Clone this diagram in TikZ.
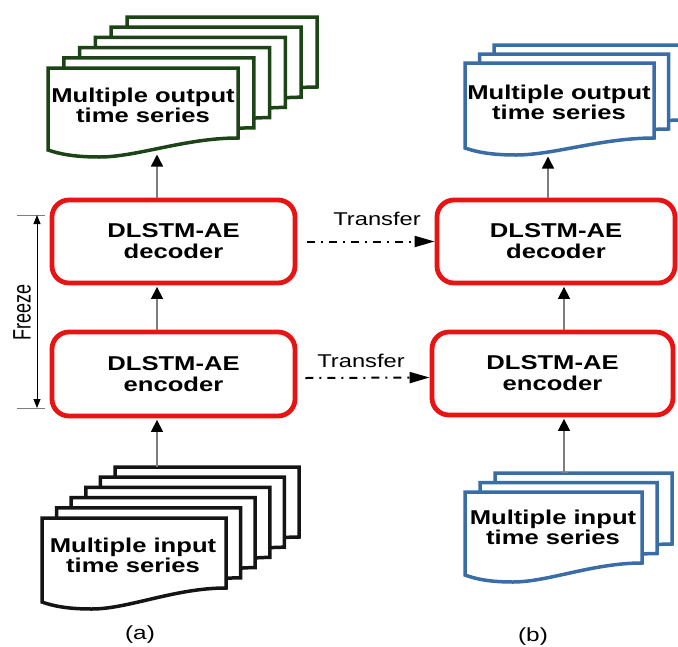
\documentclass[tikz,border=0pt]{standalone}
\usepackage{graphicx}
\usepackage{fontspec}
\setmainfont{Liberation Sans}[FakeStretch=1.28]
\newfontfamily\plainfont{Liberation Sans}
\usetikzlibrary{arrows.meta}
\definecolor{boxred}{RGB}{232,20,20}
\definecolor{docgreen}{RGB}{28,68,22}
\definecolor{docblue}{RGB}{58,108,165}
\definecolor{docblack}{RGB}{20,20,20}
\definecolor{linegray}{RGB}{125,125,125}
\newcommand{\docshape}[6]{%
  \filldraw[fill=white, draw=#6, line width=3.5pt, line join=miter]
   (#1,#2) -- ({#1+#3},#2) -- ({#1+#3},{#2+#5})
   .. controls ({#1+0.72*#3},{#2+#5}) and ({#1+0.47*#3},{#2+#4+7}) .. ({#1+0.27*#3},{#2+#4+7})
   .. controls ({#1+0.14*#3},{#2+#4+7}) and ({#1+0.06*#3},{#2+#4+4}) .. (#1,{#2+#4}) -- cycle;}
\begin{document}
\begin{tikzpicture}[x=1pt,y=-1pt,
  blockbox/.style={draw=boxred, line width=4.8pt, rounded corners=17pt, fill=white,
    minimum height=83pt, align=center, inner sep=0pt,
    font=\bfseries\fontsize{20}{21}\selectfont},
  doctext/.style={align=center, inner sep=0pt, font=\bfseries\fontsize{20}{20}\selectfont},
  uparrow/.style={draw=linegray, line width=1.5pt, shorten >=1.5pt,
    -{Triangle[length=12pt,width=12pt,color=black]}},
  transfer/.style={draw=black, line width=2pt, dash pattern=on 8pt off 6pt on 2pt off 6pt,
    -{Triangle[length=20pt,width=11pt]}},
  freezearr/.style={draw=black, line width=0.9pt,
    {Triangle[length=9pt,width=7pt]}-{Triangle[length=9pt,width=7pt]}},
  tick/.style={draw=linegray, line width=1pt},
  lbl/.style={inner sep=0pt, font=\fontsize{18.5}{18.5}\selectfont},
]
\useasboundingbox (0,0) rectangle (678,646);
\clip (0,0) rectangle (678,646);
\fill[white] (0,0) rectangle (678,646);

% document stacks
\foreach \i in {5,4,...,0} {\docshape{48+15.8*\i}{68-10.2*\i}{190}{82}{70}{docgreen}}
\foreach \i in {5,4,...,0} {\docshape{42+14.6*\i}{518-10.2*\i}{184}{84}{70}{docblack}}
\foreach \i in {2,1,0} {\docshape{465+14.5*\i}{63-9*\i}{189}{85}{75}{docblue}}
\foreach \i in {2,1,0} {\docshape{465+15*\i}{492-9.5*\i}{177}{83}{71}{docblue}}

\node[doctext] (outG) at (143,105) {Multiple output\\time series};
\node[doctext] (inK)  at (133,555) {Multiple input\\time series};
\node[doctext] (outB) at (559,102) {Multiple output\\time series};
\node[doctext] (inB)  at (553,527) {Multiple input\\time series};

% boxes
\node[blockbox, minimum width=243pt] (decL) at (173.5,241.5) {DLSTM-AE\\decoder};
\node[blockbox, minimum width=243pt, minimum height=84pt] (encL) at (173.5,374) {DLSTM-AE\\encoder};
\node[blockbox, minimum width=238pt] (decR) at (556,241.5) {DLSTM-AE\\decoder};
\node[blockbox, minimum width=241pt] (encR) at (552.5,373.5) {DLSTM-AE\\encoder};

% vertical connectors
\coordinate (gBot) at (157,153);
\coordinate (kTop) at (157,467);
\coordinate (bBot) at (548,155);
\coordinate (rx) at (564,0);
\coordinate (biTop) at (564,473);
\draw[uparrow] (decL.north -| gBot) -- (gBot);
\draw[uparrow] (encL.north -| gBot) -- (decL.south -| gBot);
\draw[uparrow] (kTop) -- (encL.south -| kTop);
\draw[uparrow] (decR.north -| bBot) -- (bBot);
\draw[uparrow] (encR.north -| rx) -- (decR.south -| rx);
\draw[draw=linegray, line width=1.5pt, shorten >=1.5pt,
  {Bar[width=7pt,line width=1pt,color=linegray]}-{Triangle[length=12pt,width=12pt,color=black]}]
  (biTop) -- (encR.south -| biTop);

% transfer arrows
\draw[transfer] ([xshift=10pt]decL.east) -- (decR.west);
\draw[transfer] ([xshift=8pt,yshift=-4pt]encL.east) -- ([yshift=-4pt]encR.west);
\node[lbl] (tr1) at (377,219) {Transfer};
\node[lbl] (tr2) at (361,361) {Transfer};

% freeze
\coordinate (fzT) at (37,215);
\coordinate (fzB) at (37,408);
\coordinate (fzTl) at (17,215);
\coordinate (fzTr) at (45,215);
\coordinate (fzBl) at (17,408);
\coordinate (fzBr) at (45,408);
\draw[tick] (fzTl) -- (fzTr);
\draw[tick] (fzBl) -- (fzBr);
\draw[freezearr] (fzT) -- (fzB);
\node[rotate=90, inner sep=0pt, font=\plainfont\fontsize{18}{18}\selectfont] (freeze) at (22,312) {\scalebox{1}[1.4]{Freeze}};

% captions
\node[lbl, font=\fontsize{19}{19}\selectfont] (capa) at (140,635) {(a)};
\node[lbl, font=\fontsize{19}{19}\selectfont] (capb) at (533,637) {(b)};
\end{tikzpicture}
\end{document}
